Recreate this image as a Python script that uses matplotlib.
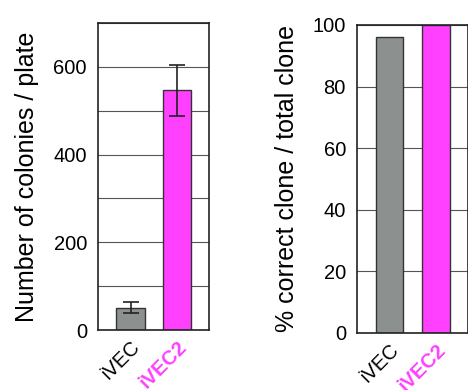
import numpy as np
import matplotlib.pyplot as plt

plt.rcParams['font.family'] = ['Liberation Sans', 'DejaVu Sans']

labels = ['iVEC', 'iVEC2']
colonies = [50, 547]
colonies_err_low = [12, 58]
colonies_err_high = [15, 57]
correct_pct = [96, 100]

bar_colors = ['#8c9190', '#ff40ff']
label_colors = ['black', '#ff40ff']

fig = plt.figure(figsize=(4.68, 3.9), dpi=100)
ax1 = fig.add_axes([0.2094, 0.1538, 0.2372, 0.7872])
ax2 = fig.add_axes([0.7628, 0.1462, 0.2372, 0.7897])

x = np.arange(len(labels))


def style(ax, ymax, grid_step, tick_step, ylabel):
    ax.set_xlim(-0.70, 1.69)
    ax.set_ylim(0, ymax)
    ax.set_yticks(np.arange(0, ymax + 1, tick_step))
    ax.set_yticks(np.arange(0, ymax + 1, grid_step), minor=True)
    ax.yaxis.grid(True, which='both', color='#555555', linewidth=0.8)
    ax.set_axisbelow(True)
    ax.tick_params(axis='y', which='both', length=0, pad=8, labelsize=14.5)
    ax.tick_params(axis='x', length=0, pad=5)
    ax.set_xticks(x)
    ax.set_xticklabels(labels, rotation=45, ha='right', va='top',
                       rotation_mode='anchor', fontsize=14.5)
    for t, c in zip(ax.get_xticklabels(), label_colors):
        t.set_color(c)
    ax.get_xticklabels()[1].set_fontweight('bold')
    ax.set_ylabel(ylabel, fontsize=18, labelpad=10)
    for s in ax.spines.values():
        s.set_color('#222222')
        s.set_linewidth(1.2)


ax1.bar(x, colonies, width=0.62, color=bar_colors, edgecolor='#333333',
        linewidth=1.0, zorder=2)
ax1.errorbar(x, colonies, yerr=[colonies_err_low, colonies_err_high],
             fmt='none', ecolor='#222222', elinewidth=1.2, capsize=6,
             capthick=1.2, zorder=3)
style(ax1, 700, 100, 200, 'Number of colonies / plate')

ax2.bar(x, correct_pct, width=0.60, color=bar_colors, edgecolor='#333333',
        linewidth=1.0, zorder=2)
style(ax2, 100, 20, 20, '% correct clone / total clone')

fig.savefig('out.png', dpi=100)
